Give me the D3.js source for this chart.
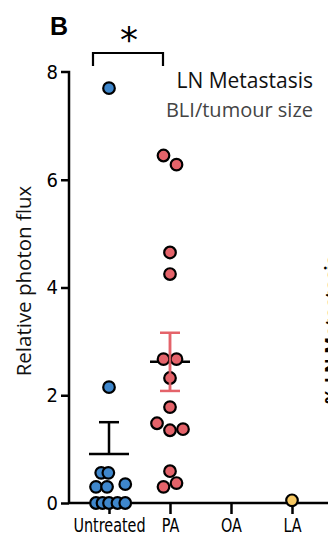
<!DOCTYPE html>
<html><head><meta charset="utf-8">
<script src="https://cdn.jsdelivr.net/npm/d3@7"></script>
<style>body{margin:0;background:#fff}svg{display:block}</style>
</head><body>
<script>
const categories = ["Untreated","PA","OA","LA"];
const yTicks = [0,2,4,6,8];
const untreated = [7.7,2.15,0.56,0.56,0.3,0.3,0.35,0,0,0,0,0];
const untreatedJitter = [0,0,-1.2,-0.1,-2,-0.3,2.5,-2,-1,0,1.3,2.5];
const pa = [6.45,6.28,4.65,4.25,2.67,2.67,2.32,1.78,1.48,1.35,1.37,0.59,0.3,0.37];
const paJitter = [-1,1,0,0,-1,1,0,0,-2,0,2,0,-1,1];
const oa = [];
const la = [0.05];
const means = [0.91,2.62,null,null];
const sems = [0.59,0.54,null,null];

const W=328,H=544;
const svg=d3.select("body").append("svg").attr("width",W).attr("height",H);
const y=d3.scaleLinear().domain([0,8]).range([503,72]);
const x=d3.scalePoint().domain(categories).range([109,292]);
const colors={Untreated:"#3f87cc",PA:"#e4636a",OA:"#888",LA:"#f7c862"};
const cond="'Liberation Sans Narrow','DejaVu Sans Condensed',sans-serif";

const ya=svg.append("g").attr("transform","translate(69,0)")
  .call(d3.axisLeft(y).tickValues(yTicks).tickSize(8).tickPadding(3));
ya.select(".domain").attr("stroke","#000").attr("stroke-width",2.5).attr("d","M-8,72H0V503");
ya.selectAll(".tick line").attr("stroke-width",2.5);
ya.selectAll(".tick text").attr("font-family",cond).style("font-size","20px").attr("fill","#000");
ya.selectAll(".tick").filter(d=>d===8).select("line").remove();

const xa=svg.append("g").attr("transform","translate(0,503)")
  .call(d3.axisBottom(x).tickSize(11).tickPadding(4));
xa.select(".domain").attr("d","M69,0H330").attr("stroke","#000").attr("stroke-width",2.5);
xa.selectAll(".tick line").attr("stroke-width",2.5);
xa.selectAll(".tick text").attr("font-family",cond).style("font-size","20px").attr("fill","#000")
  .attr("transform","scale(0.8,1)");

const errCol={Untreated:"#000",PA:"#e4636a"};
categories.forEach((c,i)=>{
  if(means[i]==null) return;
  const cx=x(c);
  const g=svg.append("g");
  g.append("line").attr("x1",cx).attr("x2",cx).attr("y1",y(means[i]-(c==="PA"?sems[i]:0))).attr("y2",y(means[i]+sems[i]))
    .attr("stroke",errCol[c]).attr("stroke-width",2.5);
  g.append("line").attr("x1",cx-10).attr("x2",cx+10).attr("y1",y(means[i]+sems[i])).attr("y2",y(means[i]+sems[i]))
    .attr("stroke",errCol[c]).attr("stroke-width",2.5);
  if(c==="PA") g.append("line").attr("x1",cx-10).attr("x2",cx+10).attr("y1",y(means[i]-sems[i])).attr("y2",y(means[i]-sems[i]))
    .attr("stroke",errCol[c]).attr("stroke-width",2.5);
});
categories.forEach((c,i)=>{
  if(means[i]==null) return;
  svg.append("line").attr("x1",x(c)-20).attr("x2",x(c)+20).attr("y1",y(means[i])).attr("y2",y(means[i]))
    .attr("stroke","#000").attr("stroke-width",2.5);
});

function dots(vals,jit,cat){
  svg.append("g").selectAll("circle").data(vals).join("circle")
    .attr("cx",(d,i)=>x(cat)+jit[i]*6.5).attr("cy",d=>y(d)).attr("r",5.8)
    .attr("fill",colors[cat]).attr("stroke","#000").attr("stroke-width",2.2);
}
dots(untreated,untreatedJitter,"Untreated");
dots(pa,paJitter,"PA");
dots(oa,[],"OA");
dots(la,[0],"LA");
svg.append("line").attr("x1",x("PA")).attr("x2",x("PA")).attr("y1",y(means[1]-sems[1])).attr("y2",y(means[1]+sems[1]))
  .attr("stroke","#e4636a").attr("stroke-width",2.5).attr("opacity",0.9);

svg.append("text").attr("x",50).attr("y",35).text("B").attr("font-family","'Liberation Sans',Arial,sans-serif")
  .attr("font-weight","bold").style("font-size","25px");
svg.append("text").attr("x",129).attr("y",52).attr("text-anchor","middle").text("*")
  .attr("font-family","'DejaVu Sans',sans-serif").style("font-size","36px");
svg.append("path").attr("d",`M${x("Untreated")-16},66V53H${x("PA")-7}V66`).attr("fill","none").attr("stroke","#000").attr("stroke-width",2.2);

svg.append("text").attr("x",313).attr("y",88).attr("text-anchor","end").text("LN Metastasis")
  .attr("font-family","'Open Sans',sans-serif").style("font-size","21px").attr("fill","#111");
svg.append("text").attr("x",313).attr("y",117).attr("text-anchor","end").text("BLI/tumour size")
  .attr("font-family","'Open Sans',sans-serif").style("font-size","20px").attr("fill","#444");

svg.append("text").attr("transform","translate(31,281) rotate(-90)").attr("text-anchor","middle")
  .text("Relative  photon flux").attr("font-family","'Open Sans',sans-serif").style("font-size","20.5px").attr("fill","#111");

svg.append("text").attr("transform","translate(338,404) rotate(-90)")
  .text("% LN Metastasis").attr("font-family","'Open Sans',sans-serif").attr("font-weight","bold").style("font-size","18px");
</script>
</body></html>
